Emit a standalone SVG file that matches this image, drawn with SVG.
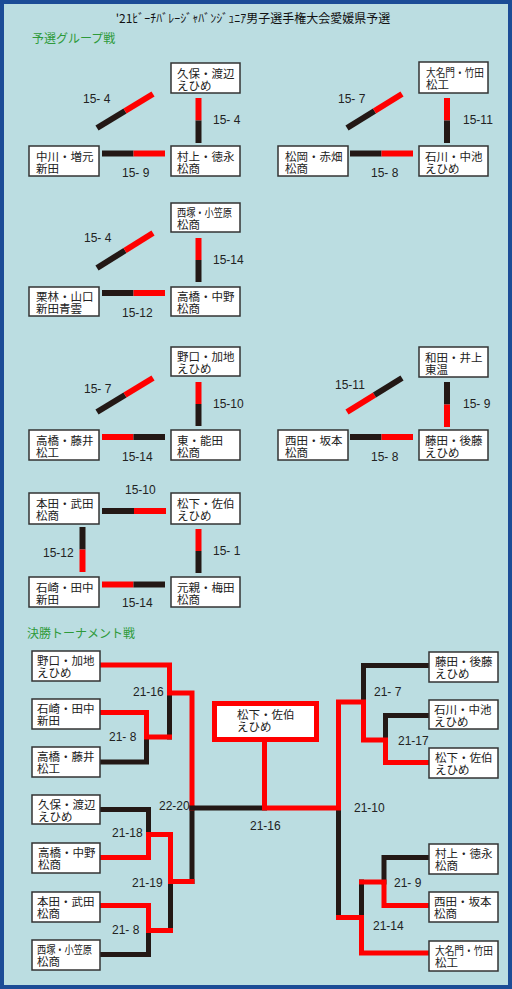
<svg xmlns="http://www.w3.org/2000/svg" width="512" height="989" viewBox="0 0 512 989">
<style>
.bg{fill:#BBDDE1;stroke:#1B4C96;stroke-width:4}
.box{fill:#fff;stroke:#333;stroke-width:1.5}
.jp{font-family:"Noto Sans CJK JP","Noto Sans CJK SC",sans-serif;font-size:11.5px;fill:#222}
.sc{font-family:"Liberation Sans",Arial,sans-serif;font-size:12px;fill:#222;white-space:pre}
.ttl{font-family:"Noto Sans CJK JP",sans-serif;font-size:12px;fill:#111}
.hd{font-family:"Noto Sans CJK JP",sans-serif;font-size:12px;fill:#2E9A3A}
.r6{stroke:#FF0000;stroke-width:6;fill:none}
.k6{stroke:#231815;stroke-width:6;fill:none}
.r5{stroke:#FF0000;stroke-width:5;fill:none;stroke-linejoin:miter;stroke-linecap:square}
.k5{stroke:#231815;stroke-width:5;fill:none;stroke-linejoin:miter;stroke-linecap:square}
</style>
<rect class="bg" x="2" y="2" width="508" height="985"/>
<text class="ttl" x="253" y="23" text-anchor="middle">'21ﾋﾞｰﾁﾊﾞﾚｰｼﾞｬﾊﾞﾝｼﾞｭﾆｱ男子選手権大会愛媛県予選</text>
<text class="hd" x="32" y="43">予選グループ戦</text>
<text class="hd" x="27" y="638">決勝トーナメント戦</text>

<g id="connectors">
<line class="k6" x1="97" y1="128" x2="125" y2="111"/><line class="r6" x1="125" y1="111" x2="153" y2="94"/>
<line class="r6" x1="198.5" y1="98" x2="198.5" y2="120.5"/><line class="k6" x1="198.5" y1="120.5" x2="198.5" y2="143"/>
<line class="k6" x1="102" y1="153.5" x2="133.5" y2="153.5"/><line class="r6" x1="133.5" y1="153.5" x2="165" y2="153.5"/>
<line class="k6" x1="347" y1="128" x2="374.5" y2="111"/><line class="r6" x1="374.5" y1="111" x2="402" y2="94"/>
<line class="r6" x1="447" y1="98" x2="447" y2="120.5"/><line class="k6" x1="447" y1="120.5" x2="447" y2="143"/>
<line class="k6" x1="350" y1="153.5" x2="381.5" y2="153.5"/><line class="r6" x1="381.5" y1="153.5" x2="413" y2="153.5"/>
<line class="k6" x1="97" y1="268" x2="125" y2="250.5"/><line class="r6" x1="125" y1="250.5" x2="153" y2="233"/>
<line class="r6" x1="198.5" y1="238" x2="198.5" y2="260"/><line class="k6" x1="198.5" y1="260" x2="198.5" y2="282"/>
<line class="k6" x1="102" y1="293" x2="133.5" y2="293"/><line class="r6" x1="133.5" y1="293" x2="165" y2="293"/>
<line class="k6" x1="97" y1="412" x2="125" y2="395"/><line class="r6" x1="125" y1="395" x2="153" y2="378"/>
<line class="r6" x1="198.5" y1="382" x2="198.5" y2="404"/><line class="k6" x1="198.5" y1="404" x2="198.5" y2="426"/>
<line class="r6" x1="102" y1="437" x2="133.5" y2="437"/><line class="k6" x1="133.5" y1="437" x2="165" y2="437"/>
<line class="r6" x1="347" y1="412" x2="374.5" y2="395"/><line class="k6" x1="374.5" y1="395" x2="402" y2="378"/>
<line class="k6" x1="447" y1="382" x2="447" y2="404.5"/><line class="r6" x1="447" y1="404.5" x2="447" y2="427"/>
<line class="k6" x1="350" y1="437" x2="381.5" y2="437"/><line class="r6" x1="381.5" y1="437" x2="413" y2="437"/>
<line class="k6" x1="102" y1="511" x2="134" y2="511"/><line class="r6" x1="134" y1="511" x2="166" y2="511"/>
<line class="k6" x1="82.5" y1="527" x2="82.5" y2="549.5"/><line class="r6" x1="82.5" y1="549.5" x2="82.5" y2="572"/>
<line class="r6" x1="198.5" y1="529" x2="198.5" y2="551"/><line class="k6" x1="198.5" y1="551" x2="198.5" y2="573"/>
<line class="r6" x1="102" y1="584.5" x2="133.5" y2="584.5"/><line class="k6" x1="133.5" y1="584.5" x2="165" y2="584.5"/>
<polyline class="k5" points="169.5,693 169.5,737"/>
<polyline class="k5" points="146.5,737 146.5,762 100,762"/>
<polyline class="r5" points="100,712.5 146.5,712.5 146.5,737 169.5,737"/>
<polyline class="k5" points="192,808 192,881.5"/>
<polyline class="r5" points="100,665 169.5,665 169.5,693 192,693 192,808"/>
<polyline class="k5" points="100,809.5 148.5,809.5 148.5,834.5"/>
<polyline class="k5" points="170.5,881.5 170.5,930.5"/>
<polyline class="k5" points="148.5,930.5 148.5,954.5 100,954.5"/>
<polyline class="r5" points="100,857.5 148.5,857.5 148.5,834.5 170.5,834.5 170.5,881.5 192,881.5"/>
<polyline class="r5" points="100,905.5 148.5,905.5 148.5,930.5 170.5,930.5"/>
<polyline class="k5" points="192,808 264.5,808"/>
<polyline class="k5" points="338.5,808 338.5,917.5"/>
<polyline class="k5" points="363.5,702 363.5,665.5 429,665.5"/>
<polyline class="k5" points="385.5,740 385.5,715.5 429,715.5"/>
<polyline class="r5" points="264.5,742 264.5,808 338.5,808 338.5,702 363.5,702 363.5,740 385.5,740 385.5,762.5 429,762.5"/>
<polyline class="k5" points="361.5,917.5 361.5,882"/>
<polyline class="k5" points="384,882 384,857.5 429,857.5"/>
<polyline class="r5" points="361.5,882 384,882 384,905.5 429,905.5"/>
<polyline class="r5" points="338.5,917.5 361.5,917.5 361.5,953 429,953"/>
</g>

<g id="scores">
<text class="sc" x="83" y="103">15- 4</text>
<text class="sc" x="213" y="124">15- 4</text>
<text class="sc" x="122" y="177">15- 9</text>
<text class="sc" x="338" y="103">15- 7</text>
<text class="sc" x="463" y="124">15-11</text>
<text class="sc" x="371" y="177">15- 8</text>
<text class="sc" x="84" y="242">15- 4</text>
<text class="sc" x="213" y="264">15-14</text>
<text class="sc" x="122" y="317">15-12</text>
<text class="sc" x="84" y="393">15- 7</text>
<text class="sc" x="213" y="408">15-10</text>
<text class="sc" x="122" y="461">15-14</text>
<text class="sc" x="335" y="389">15-11</text>
<text class="sc" x="463" y="408">15- 9</text>
<text class="sc" x="371" y="461">15- 8</text>
<text class="sc" x="125" y="494">15-10</text>
<text class="sc" x="43" y="557">15-12</text>
<text class="sc" x="213" y="555">15- 1</text>
<text class="sc" x="122" y="607">15-14</text>
<text class="sc" x="133" y="696">21-16</text>
<text class="sc" x="109" y="741">21- 8</text>
<text class="sc" x="112" y="837">21-18</text>
<text class="sc" x="159" y="810">22-20</text>
<text class="sc" x="132" y="887">21-19</text>
<text class="sc" x="112" y="934">21- 8</text>
<text class="sc" x="250" y="830">21-16</text>
<text class="sc" x="354" y="812">21-10</text>
<text class="sc" x="374" y="696">21- 7</text>
<text class="sc" x="398" y="745">21-17</text>
<text class="sc" x="394" y="887">21- 9</text>
<text class="sc" x="373" y="930">21-14</text>
</g>

<g id="g1-kubo"><rect class="box" x="171" y="63" width="69" height="30"/><text class="jp"><tspan x="177" y="78">久保・渡辺</tspan><tspan x="177" y="90">えひめ</tspan></text></g>
<g id="g1-nakagawa"><rect class="box" x="29" y="146" width="70" height="30"/><text class="jp"><tspan x="36" y="161">中川・増元</tspan><tspan x="36" y="173">新田</tspan></text></g>
<g id="g1-murakami"><rect class="box" x="171" y="146" width="69" height="30"/><text class="jp"><tspan x="177" y="161">村上・徳永</tspan><tspan x="177" y="173">松商</tspan></text></g>

<g id="g2-daimyomon"><rect class="box" x="419" y="62" width="69" height="31"/><text class="jp"><tspan x="426" y="77" textLength="58" lengthAdjust="spacingAndGlyphs">大名門・竹田</tspan><tspan x="426" y="89">松工</tspan></text></g>
<g id="g2-matsuoka"><rect class="box" x="278" y="146" width="70" height="30"/><text class="jp"><tspan x="285" y="161">松岡・赤畑</tspan><tspan x="285" y="173">松商</tspan></text></g>
<g id="g2-ishikawa"><rect class="box" x="419" y="146" width="69" height="30"/><text class="jp"><tspan x="425" y="161">石川・中池</tspan><tspan x="425" y="173">えひめ</tspan></text></g>

<g id="g3-nishizuka"><rect class="box" x="171" y="203" width="69" height="29"/><text class="jp"><tspan x="177" y="217" textLength="55" lengthAdjust="spacingAndGlyphs">西塚・小笠原</tspan><tspan x="177" y="229">松商</tspan></text></g>
<g id="g3-kuribayashi"><rect class="box" x="29" y="287" width="70" height="29"/><text class="jp"><tspan x="36" y="301">栗林・山口</tspan><tspan x="36" y="313">新田青雲</tspan></text></g>
<g id="g3-takahashi"><rect class="box" x="171" y="287" width="69" height="29"/><text class="jp"><tspan x="177" y="301">高橋・中野</tspan><tspan x="177" y="313">松商</tspan></text></g>

<g id="g4-noguchi"><rect class="box" x="171" y="347" width="69" height="29"/><text class="jp"><tspan x="177" y="361">野口・加地</tspan><tspan x="177" y="373">えひめ</tspan></text></g>
<g id="g4-takahashi"><rect class="box" x="29" y="430" width="70" height="30"/><text class="jp"><tspan x="36" y="445">高橋・藤井</tspan><tspan x="36" y="457">松工</tspan></text></g>
<g id="g4-higashi"><rect class="box" x="171" y="430" width="69" height="30"/><text class="jp"><tspan x="177" y="445">東・能田</tspan><tspan x="177" y="457">松商</tspan></text></g>

<g id="g5-wada"><rect class="box" x="419" y="347" width="69" height="30"/><text class="jp"><tspan x="425" y="362">和田・井上</tspan><tspan x="425" y="374">東温</tspan></text></g>
<g id="g5-nishida"><rect class="box" x="278" y="430" width="70" height="30"/><text class="jp"><tspan x="285" y="445">西田・坂本</tspan><tspan x="285" y="457">松商</tspan></text></g>
<g id="g5-fujita"><rect class="box" x="419" y="430" width="69" height="30"/><text class="jp"><tspan x="425" y="445">藤田・後藤</tspan><tspan x="425" y="457">えひめ</tspan></text></g>

<g id="g6-honda"><rect class="box" x="29" y="493" width="70" height="31"/><text class="jp"><tspan x="36" y="508">本田・武田</tspan><tspan x="36" y="520">松商</tspan></text></g>
<g id="g6-matsushita"><rect class="box" x="171" y="493" width="69" height="31"/><text class="jp"><tspan x="177" y="508">松下・佐伯</tspan><tspan x="177" y="520">えひめ</tspan></text></g>
<g id="g6-ishizaki"><rect class="box" x="29" y="577" width="70" height="30"/><text class="jp"><tspan x="36" y="592">石崎・田中</tspan><tspan x="36" y="604">新田</tspan></text></g>
<g id="g6-chikachika"><rect class="box" x="171" y="577" width="69" height="30"/><text class="jp"><tspan x="177" y="592">元親・梅田</tspan><tspan x="177" y="604">松商</tspan></text></g>

<g id="t-noguchi"><rect class="box" x="32" y="651" width="68" height="30"/><text class="jp"><tspan x="37" y="665">野口・加地</tspan><tspan x="37" y="677">えひめ</tspan></text></g>
<g id="t-ishizaki"><rect class="box" x="32" y="699" width="68" height="30"/><text class="jp"><tspan x="37" y="713">石崎・田中</tspan><tspan x="37" y="725">新田</tspan></text></g>
<g id="t-takahashi-fujii"><rect class="box" x="32" y="747" width="68" height="30"/><text class="jp"><tspan x="37" y="761">高橋・藤井</tspan><tspan x="37" y="773">松工</tspan></text></g>
<g id="t-kubo"><rect class="box" x="32" y="795" width="68" height="29"/><text class="jp"><tspan x="38" y="809">久保・渡辺</tspan><tspan x="38" y="821">えひめ</tspan></text></g>
<g id="t-takahashi-nakano"><rect class="box" x="32" y="843" width="68" height="30"/><text class="jp"><tspan x="38" y="857">高橋・中野</tspan><tspan x="38" y="869">松商</tspan></text></g>
<g id="t-honda"><rect class="box" x="32" y="892" width="68" height="30"/><text class="jp"><tspan x="37" y="906">本田・武田</tspan><tspan x="37" y="918">松商</tspan></text></g>
<g id="t-nishizuka"><rect class="box" x="32" y="940" width="68" height="30"/><text class="jp"><tspan x="37" y="954" textLength="55" lengthAdjust="spacingAndGlyphs">西塚・小笠原</tspan><tspan x="37" y="966">松商</tspan></text></g>

<g id="t-fujita"><rect class="box" x="429" y="652" width="69" height="30"/><text class="jp"><tspan x="435" y="666">藤田・後藤</tspan><tspan x="435" y="678">えひめ</tspan></text></g>
<g id="t-ishikawa"><rect class="box" x="429" y="700" width="69" height="29"/><text class="jp"><tspan x="434" y="714">石川・中池</tspan><tspan x="434" y="726">えひめ</tspan></text></g>
<g id="t-matsushita"><rect class="box" x="429" y="748" width="69" height="30"/><text class="jp"><tspan x="435" y="762">松下・佐伯</tspan><tspan x="435" y="774">えひめ</tspan></text></g>
<g id="t-murakami"><rect class="box" x="429" y="844" width="69" height="30"/><text class="jp"><tspan x="435" y="858">村上・徳永</tspan><tspan x="435" y="870">松商</tspan></text></g>
<g id="t-nishida"><rect class="box" x="429" y="892" width="69" height="30"/><text class="jp"><tspan x="434" y="906">西田・坂本</tspan><tspan x="434" y="918">松商</tspan></text></g>
<g id="t-daimyomon"><rect class="box" x="429" y="941" width="69" height="30"/><text class="jp"><tspan x="435" y="955" textLength="58" lengthAdjust="spacingAndGlyphs">大名門・竹田</tspan><tspan x="435" y="967">松工</tspan></text></g>

<g id="champion"><rect x="214.5" y="703.5" width="102" height="36" fill="#fff" stroke="#FF0000" stroke-width="5"/><text class="jp"><tspan x="237" y="719">松下・佐伯</tspan><tspan x="237" y="731">えひめ</tspan></text></g>
</svg>
